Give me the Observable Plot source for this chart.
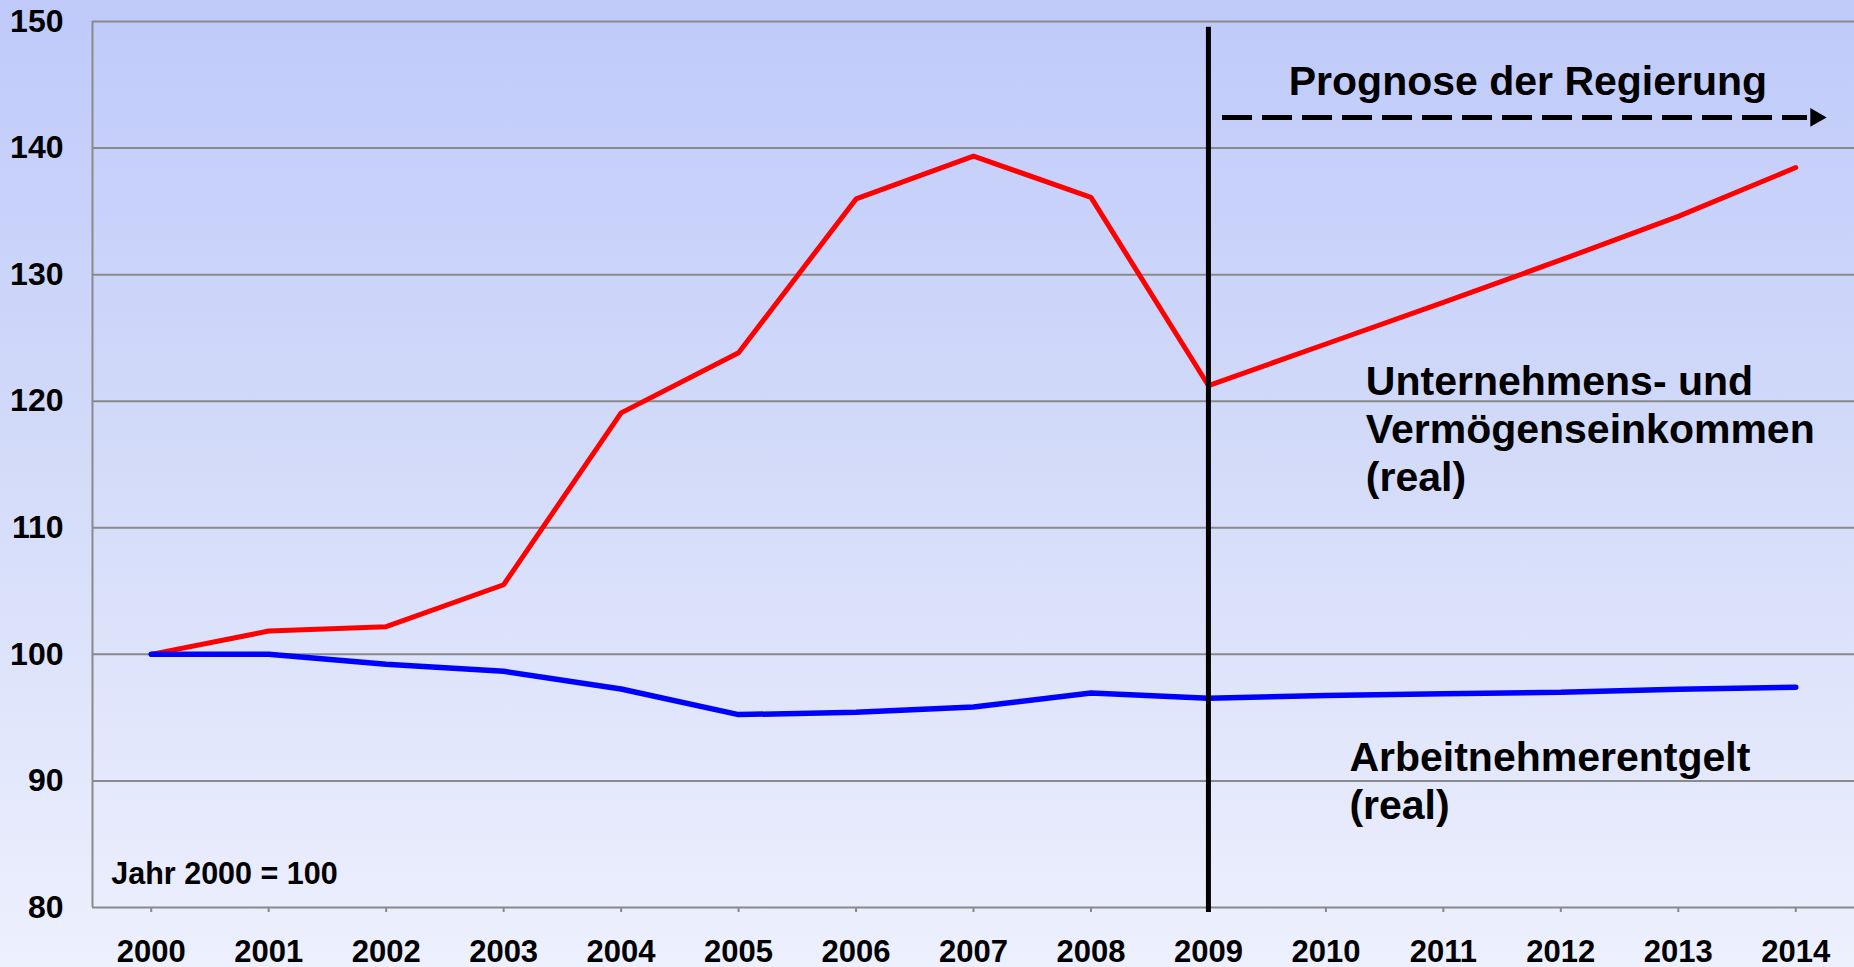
<!DOCTYPE html>
<html>
<head>
<meta charset="utf-8">
<script src="https://cdn.jsdelivr.net/npm/d3@7"></script>
<script src="https://cdn.jsdelivr.net/npm/@observablehq/plot@0.6"></script>
<style>
  html, body { margin: 0; padding: 0; }
  body {
    width: 1854px; height: 967px; overflow: hidden;
    background: linear-gradient(to bottom, #bfcafa 0%, #d2daf9 45%, #edf0fd 100%);
    font-family: "Liberation Sans", Arial, sans-serif;
  }
  #chart svg { display: block; }
</style>
</head>
<body>
<div id="chart"></div>
<script>
const years = [2000, 2001, 2002, 2003, 2004, 2005, 2006, 2007, 2008, 2009, 2010, 2011, 2012, 2013, 2014];
const unternehmen = [100, 101.84, 102.19, 105.5, 119.08, 123.83, 135.98, 139.37, 136.1, 121.24, 124.52, 127.81, 131.16, 134.6, 138.46];
const arbeitnehmer = [100, 100, 99.21, 98.66, 97.26, 95.24, 95.42, 95.84, 96.94, 96.53, 96.75, 96.88, 97.0, 97.24, 97.4];
const yTicks = [80, 90, 100, 110, 120, 130, 140, 150];
const prognoseYear = 2009;
const labelPrognose = ["Prognose der Regierung"];
const labelUnternehmen = ["Unternehmens- und\nVermögenseinkommen\n(real)"];
const labelArbeitnehmer = ["Arbeitnehmerentgelt\n(real)"];
const labelBasis = ["Jahr 2000 = 100"];

const red = years.map((year, i) => ({year, value: unternehmen[i]}));
const blue = years.map((year, i) => ({year, value: arbeitnehmer[i]}));

const grid = "#8a8a8a";
const chart = Plot.plot({
  width: 1854,
  height: 967,
  marginLeft: 92,
  marginRight: 0,
  marginTop: 21,
  marginBottom: 60,
  x: {domain: [1999.5, 2014.5]},
  y: {domain: [80, 150]},
  style: {background: "transparent", fontFamily: "'Liberation Sans', Arial, sans-serif", overflow: "visible", color: "black"},
  marks: [
    Plot.ruleY(yTicks, {stroke: grid, strokeWidth: 2}),
    Plot.ruleX([1999.5], {y1: 80, y2: 150, stroke: grid, strokeWidth: 2}),
    Plot.axisY({ticks: yTicks, tickSize: 0, tickPadding: 29, fontSize: 32, fontWeight: "bold", fill: "black", label: null}),
    Plot.axisX({ticks: years, tickFormat: d => String(d), tickSize: 5, tickPadding: 27, fontSize: 31, fontWeight: "bold", stroke: grid, strokeWidth: 2, fill: "black", label: null}),
    Plot.line(red, {x: "year", y: "value", stroke: "#ff0000", strokeWidth: 5, strokeLinejoin: "miter"}),
    Plot.line(blue, {x: "year", y: "value", stroke: "#0000ff", strokeWidth: 5.5, strokeLinejoin: "miter"}),
    Plot.ruleX([prognoseYear], {y1: 149.55, y2: 79.6, stroke: "black", strokeWidth: 5}),
    Plot.ruleY([142.42], {x1: 2009.12, x2: 2014.1, stroke: "black", strokeWidth: 5, strokeDasharray: "30,10"}),
    Plot.dot([0], {x: 2014.17, y: 142.42, symbol: "triangle", rotate: 90, r: 7, fill: "black", stroke: null}),
    Plot.text(labelPrognose, {x: 2011.72, y: 145.2, text: d => d, fontSize: 41, fontWeight: "bold", fill: "black"}),
    Plot.text(labelUnternehmen, {x: 2010.34, y: 123.2, text: d => d, fontSize: 41, fontWeight: "bold", fill: "black", textAnchor: "start", lineAnchor: "top", lineHeight: 1.17}),
    Plot.text(labelArbeitnehmer, {x: 2010.2, y: 93.5, text: d => d, fontSize: 41, fontWeight: "bold", fill: "black", textAnchor: "start", lineAnchor: "top", lineHeight: 1.17}),
    Plot.text(labelBasis, {x: 1999.66, y: 83.6, text: d => d, fontSize: 30.5, fontWeight: "bold", fill: "black", textAnchor: "start", lineAnchor: "top"})
  ]
});
document.getElementById("chart").appendChild(chart);
</script>
</body>
</html>
